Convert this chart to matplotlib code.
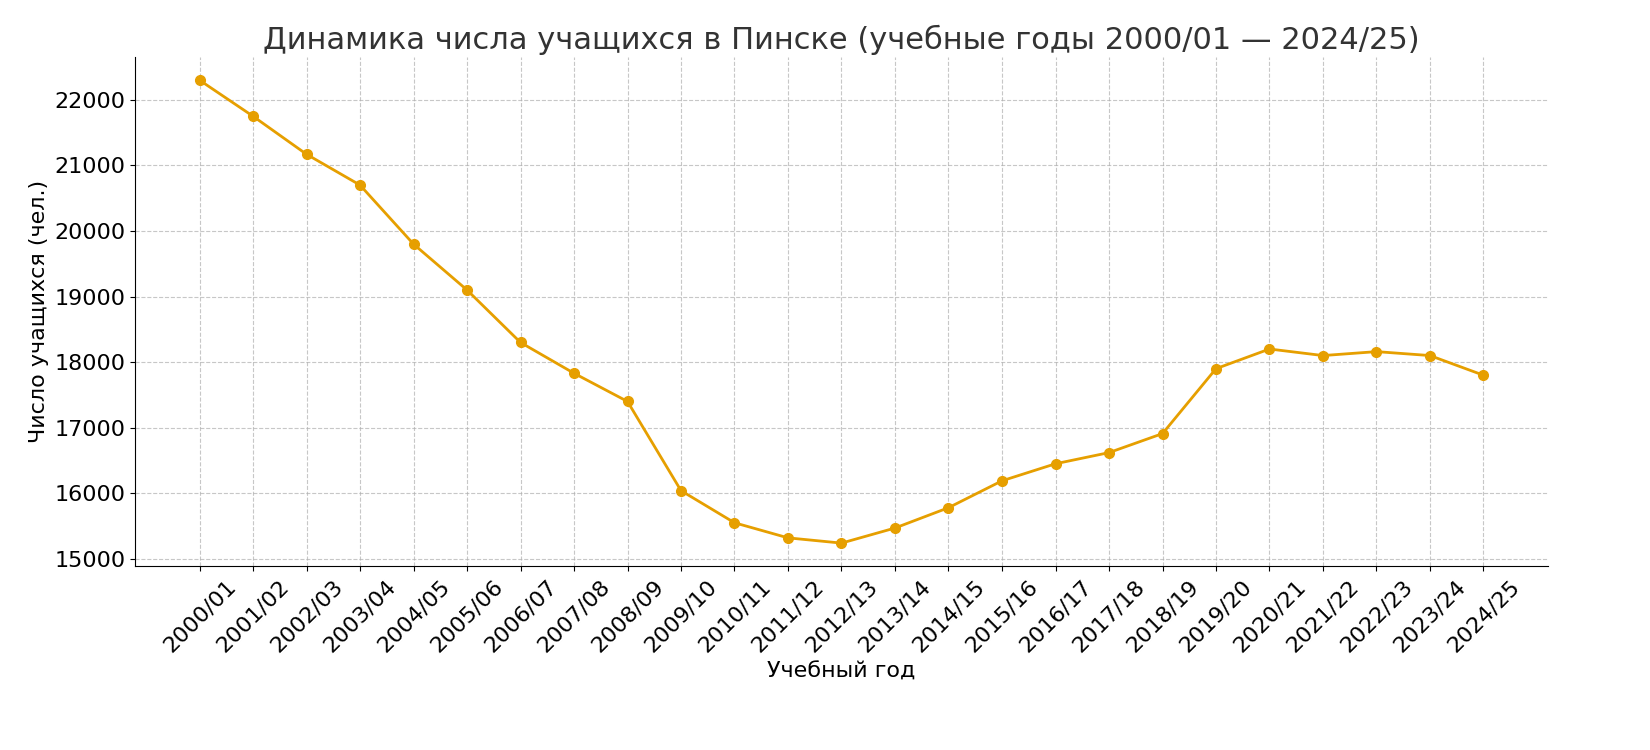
import matplotlib.pyplot as plt

years = ["2000/01", "2001/02", "2002/03", "2003/04", "2004/05", "2005/06", "2006/07",
         "2007/08", "2008/09", "2009/10", "2010/11", "2011/12", "2012/13", "2013/14",
         "2014/15", "2015/16", "2016/17", "2017/18", "2018/19", "2019/20", "2020/21",
         "2021/22", "2022/23", "2023/24", "2024/25"]
students = [22300, 21750, 21170, 20700, 19800, 19100, 18300, 17830, 17400, 16040,
            15550, 15320, 15240, 15470, 15780, 16190, 16450, 16620, 16910, 17900,
            18200, 18100, 18160, 18100, 17800]

fig, ax = plt.subplots(figsize=(16.5, 7.5), dpi=100)
ax.plot(years, students, color="#E69F00", marker="o", linewidth=2, markersize=7)

ax.set_title("Динамика числа учащихся в Пинске (учебные годы 2000/01 — 2024/25)",
             fontsize=22, color="#333333")
ax.set_xlabel("Учебный год", fontsize=16)
ax.set_ylabel("Число учащихся (чел.)", fontsize=16)
ax.set_yticks(range(15000, 22001, 1000))
ax.tick_params(axis="both", labelsize=16)
plt.setp(ax.get_xticklabels(), rotation=45, ha="center")
ax.grid(True, linestyle="--", alpha=0.7)
ax.spines["top"].set_visible(False)
ax.spines["right"].set_visible(False)

fig.subplots_adjust(left=0.082, right=0.938, top=0.924, bottom=0.245)
plt.savefig("out.png")
